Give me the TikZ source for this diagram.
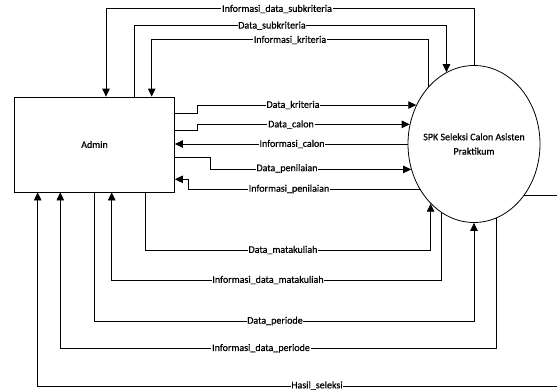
\documentclass[tikz,border=0pt]{standalone}
\usepackage{fontspec}
\setmainfont{Carlito}[FakeBold=0.6]
\usetikzlibrary{arrows.meta,shapes.geometric}
\tikzset{
  flow/.style={-{Triangle[length=8pt,width=7.5pt]},line width=0.8pt},
  lbl/.style={fill=white,inner sep=0.8pt,font=\fontsize{10}{12}\selectfont}
}
\begin{document}
\begin{tikzpicture}[x=1pt,y=-1pt]
  \useasboundingbox (0,0) rectangle (557,391);
  \clip (0,0) rectangle (557,391);
  \node[draw,line width=0.8pt,minimum width=160pt,minimum height=95pt,
    font=\fontsize{10}{12}\selectfont] (admin) at (94.5,144.5) {Admin};
  \node[draw,ellipse,line width=0.8pt,minimum width=132pt,minimum height=157pt,inner sep=0pt,
    label={[align=center,font=\fontsize{10}{14.4}\selectfont]center:SPK Seleksi Calon Asisten\\Praktikum}]
    (spk) at (474,144) {};
  % top
  \draw[flow] (spk.north) |- ([xshift=11.5pt,yshift=88pt]admin.north) -- ([xshift=11.5pt]admin.north);
  \draw[flow] ([xshift=40.2pt]admin.north) -- ([xshift=40.2pt,yshift=71.3pt]admin.north) -| (spk.111);
  \draw[flow] (spk.129) |- ([xshift=57.2pt,yshift=57pt]admin.north) -- ([xshift=57.2pt]admin.north);
  % right
  \draw[flow] ([yshift=31.2pt]admin.east) -- ([xshift=22.2pt,yshift=31.2pt]admin.east) |- (spk.146);
  \draw[flow] ([yshift=13.8pt]admin.east) -- ([xshift=22.2pt,yshift=13.8pt]admin.east) |- (spk.163);
  \draw[flow] (spk.west) -- (spk.west -| admin.east);
  \draw[flow] ([yshift=-13.2pt]admin.east) -- ([xshift=35.5pt,yshift=-13.2pt]admin.east) |- (spk.202);
  \draw[flow] (spk.220) -| ([xshift=13.8pt,yshift=-34.8pt]admin.east) -- ([yshift=-34.8pt]admin.east);
  % bottom
  \draw[flow] ([xshift=51.2pt]admin.south) -- ([xshift=51.2pt,yshift=-58pt]admin.south) -| (spk.234);
  \draw[flow] (spk.245) |- ([xshift=17.2pt,yshift=-88pt]admin.south) -- ([xshift=17.2pt]admin.south);
  \draw[flow] (admin.south) -- ([yshift=-129pt]admin.south) -| (spk.south);
  \draw[flow] (spk.287) |- ([xshift=-34.2pt,yshift=-156.3pt]admin.south) -- ([xshift=-34.2pt]admin.south);
  \draw[flow] (spk.314) -- ++(60,0) |- ([xshift=-56.8pt,yshift=-193.5pt]admin.south) -- ([xshift=-56.8pt]admin.south);
  % labels
  \node[lbl] (l1) at (277,9) {Informasi\_data\_subkriteria};
  \node[lbl] (l2) at (272,25.7) {Data\_subkriteria};
  \node[lbl] (l3) at (290,40) {Informasi\_kriteria};
  \node[lbl] (l4) at (293,105) {Data\_kriteria};
  \node[lbl] (l5) at (291,124.5) {Data\_calon};
  \node[lbl] (l6) at (292,144) {Informasi\_calon};
  \node[lbl] (l7) at (287,168.5) {Data\_penilaian};
  \node[lbl] (l8) at (289,189) {Informasi\_penilaian};
  \node[lbl] (l9) at (283,250) {Data\_matakuliah};
  \node[lbl] (l10) at (268,280) {Informasi\_data\_matakuliah};
  \node[lbl] (l11) at (275,321) {Data\_periode};
  \node[lbl] (l12) at (261,348.3) {Informasi\_data\_periode};
  \node[lbl] (l13) at (317,385.5) {Hasil\_seleksi};
\end{tikzpicture}
\end{document}
